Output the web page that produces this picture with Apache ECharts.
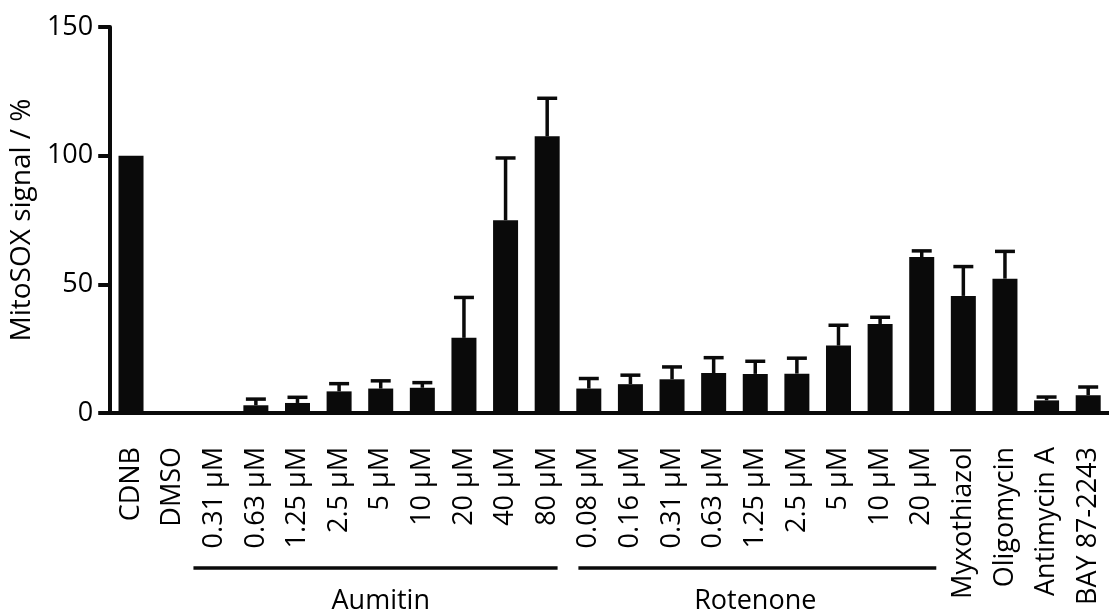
<!DOCTYPE html>
<html>
<head>
<meta charset="utf-8">
<title>MitoSOX signal</title>
<script src="https://cdn.jsdelivr.net/npm/echarts@6/dist/echarts.min.js"></script>
<style>
  html, body { margin: 0; padding: 0; background: #fff; }
  #chart { width: 1109px; height: 613px; }
</style>
</head>
<body>
<div id="chart"></div>
<script>
// Treatments along the x axis
var categories = [
  'CDNB', 'DMSO',
  '0.31 \u00b5M', '0.63 \u00b5M', '1.25 \u00b5M', '2.5 \u00b5M', '5 \u00b5M', '10 \u00b5M', '20 \u00b5M', '40 \u00b5M', '80 \u00b5M',
  '0.08 \u00b5M', '0.16 \u00b5M', '0.31 \u00b5M', '0.63 \u00b5M', '1.25 \u00b5M', '2.5 \u00b5M', '5 \u00b5M', '10 \u00b5M', '20 \u00b5M',
  'Myxothiazol', 'Oligomycin', 'Antimycin A', 'BAY 87-2243'
];

// Mean MitoSOX signal (% of CDNB)
var meanValues = [
  100, 0,
  0, 3.0, 3.9, 8.4, 9.5, 9.8, 29.2, 74.9, 107.5,
  9.5, 11.2, 13.1, 15.5, 15.2, 15.3, 26.2, 34.6, 60.6,
  45.5, 52.2, 4.9, 6.9
];

// Upper error (SD) added on top of each mean
var errorValues = [
  0, 0,
  0, 2.4, 2.2, 3.0, 3.0, 2.0, 15.7, 24.2, 14.8,
  3.9, 3.5, 4.8, 6.0, 4.9, 6.0, 7.9, 2.6, 2.4,
  11.4, 10.6, 1.3, 3.2
];

// Compound groups drawn as brackets under the dose labels:
// [first index, last index, label index]
var groupNames = ['Aumitin', 'Rotenone'];
var groupRanges = [[2, 10, 6], [11, 19, 15]];

// Y axis ticks
var yTicks = [0, 50, 100, 150];

var FONT = 'Open Sans';
var INK = '#0a0a0a';
var LW = 4;

var errorData = meanValues.map(function (m, i) {
  return [i, m, m + errorValues[i]];
}).filter(function (d, i) { return errorValues[i] > 0; });

var groupData = groupRanges.map(function (g, k) {
  return { value: [g[0], 0, g[1], g[2]], name: groupNames[k] };
});

var chart = echarts.init(document.getElementById('chart'), null, { renderer: 'canvas' });

chart.setOption({
  animation: false,
  backgroundColor: '#fff',
  grid: { left: 110, top: 27, width: 1008, height: 386, containLabel: false },
  xAxis: {
    type: 'category',
    data: categories,
    boundaryGap: true,
    axisLine: { lineStyle: { color: INK, width: LW } },
    axisTick: { alignWithLabel: true, length: 12, lineStyle: { color: INK, width: LW } },
    axisLabel: {
      rotate: 90, interval: 0, margin: 34,
      fontFamily: FONT, fontSize: 27, color: '#000'
    },
    splitLine: { show: false }
  },
  yAxis: {
    type: 'value',
    min: yTicks[0], max: yTicks[yTicks.length - 1], interval: yTicks[1] - yTicks[0],
    name: 'MitoSOX signal / %',
    nameLocation: 'middle',
    nameGap: 68,
    nameTextStyle: { fontFamily: FONT, fontSize: 28, color: '#000' },
    axisLine: { show: true, lineStyle: { color: INK, width: LW } },
    axisTick: { show: true, length: 12, lineStyle: { color: INK, width: LW } },
    axisLabel: { margin: 17, fontFamily: FONT, fontSize: 27, color: '#000' },
    splitLine: { show: false }
  },
  series: [
    {
      type: 'bar',
      data: meanValues,
      barWidth: 25,
      itemStyle: { color: INK },
      z: 3
    },
    {
      // upper error bars with caps
      type: 'custom',
      data: errorData,
      encode: { x: 0, y: [1, 2] },
      z: 2,
      renderItem: function (params, api) {
        var i = api.value(0);
        var base = api.coord([i, api.value(1)]);
        var top = api.coord([i, api.value(2)]);
        var half = api.size([1, 0])[0] * 0.24;
        var style = { stroke: INK, lineWidth: 3.5, fill: null };
        return {
          type: 'group',
          children: [
            { type: 'line', shape: { x1: base[0], y1: base[1], x2: top[0], y2: top[1] }, style: style },
            { type: 'line', shape: { x1: top[0] - half, y1: top[1], x2: top[0] + half, y2: top[1] }, style: style }
          ]
        };
      }
    },
    {
      // group brackets and names below the dose labels
      type: 'custom',
      data: groupData,
      clip: false,
      silent: true,
      renderItem: function (params, api) {
        var band = api.size([1, 0])[0];
        var a = api.coord([api.value(0), 0]);
        var b = api.coord([api.value(2), 0]);
        var c = api.coord([api.value(3), 0]);
        var k = params.dataIndex;
        var x1 = a[0] - band * (k === 0 ? 0.5 : 0.25);
        var x2 = b[0] + band * (k === 0 ? 0.25 : 0.35);
        var y = a[1] + 155;
        return {
          type: 'group',
          children: [
            { type: 'line', shape: { x1: x1, y1: y, x2: x2, y2: y }, style: { stroke: INK, lineWidth: 3.5 } },
            {
              type: 'text',
              style: {
                text: groupNames[k], x: c[0], y: a[1] + 188,
                align: 'center', verticalAlign: 'middle',
                font: '27px "' + FONT + '"', fill: '#000'
              }
            }
          ]
        };
      }
    }
  ]
});
</script>
</body>
</html>
